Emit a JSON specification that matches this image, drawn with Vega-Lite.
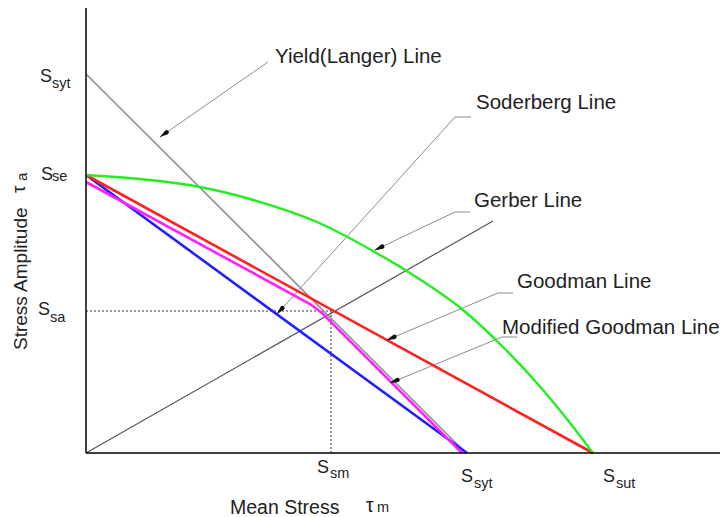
{
  "$schema": "https://vega.github.io/schema/vega-lite/v6.json",
  "width": 727,
  "height": 517,
  "padding": 0,
  "autosize": {"type": "none"},
  "background": "white",
  "config": {"view": {"stroke": null}},
  "datasets": {
    "axes": [
      {"x": 0, "y": 0, "x2": 0, "y2": 445},
      {"x": 0, "y": 0, "x2": 634, "y2": 0}
    ],
    "dotted": [
      {"seg": "h", "i": 0, "x": 0, "y": 142},
      {"seg": "h", "i": 1, "x": 245, "y": 142},
      {"seg": "v", "i": 0, "x": 245, "y": 142},
      {"seg": "v", "i": 1, "x": 245, "y": 0}
    ],
    "leaders": [
      {"name": "Yield", "i": 0, "x": 182, "y": 391},
      {"name": "Yield", "i": 1, "x": 74, "y": 316},
      {"name": "Soderberg", "i": 0, "x": 385, "y": 336},
      {"name": "Soderberg", "i": 1, "x": 369, "y": 336},
      {"name": "Soderberg", "i": 2, "x": 191, "y": 139},
      {"name": "Gerber", "i": 0, "x": 384, "y": 241},
      {"name": "Gerber", "i": 1, "x": 369, "y": 241},
      {"name": "Gerber", "i": 2, "x": 289, "y": 203},
      {"name": "Goodman", "i": 0, "x": 427, "y": 160},
      {"name": "Goodman", "i": 1, "x": 412, "y": 160},
      {"name": "Goodman", "i": 2, "x": 301, "y": 113},
      {"name": "ModGoodman", "i": 0, "x": 431, "y": 116},
      {"name": "ModGoodman", "i": 1, "x": 416, "y": 116},
      {"name": "ModGoodman", "i": 2, "x": 304, "y": 70}
    ],
    "curves": [
      {"curve": "Load", "i": 0, "x": 0, "y": 0},
      {"curve": "Load", "i": 1, "x": 407, "y": 232},
      {"curve": "Yield", "i": 0, "x": 0, "y": 379},
      {"curve": "Yield", "i": 1, "x": 380, "y": 0},
      {"curve": "Soderberg", "i": 0, "x": 0, "y": 278},
      {"curve": "Soderberg", "i": 1, "x": 381, "y": 0},
      {"curve": "Goodman", "i": 0, "x": 0, "y": 278},
      {"curve": "Goodman", "i": 1, "x": 507, "y": 0},
      {"curve": "ModGoodman", "i": 0, "x": 0, "y": 271},
      {"curve": "ModGoodman", "i": 1, "x": 224, "y": 149},
      {"curve": "ModGoodman", "i": 2, "x": 236, "y": 140},
      {"curve": "ModGoodman", "i": 3, "x": 376, "y": 0},
      {"curve": "Gerber", "i": 0, "x": 0, "y": 278},
      {"curve": "Gerber", "i": 1, "x": 64, "y": 273},
      {"curve": "Gerber", "i": 2, "x": 114, "y": 266},
      {"curve": "Gerber", "i": 3, "x": 164, "y": 254},
      {"curve": "Gerber", "i": 4, "x": 231, "y": 231},
      {"curve": "Gerber", "i": 5, "x": 287, "y": 202},
      {"curve": "Gerber", "i": 6, "x": 324, "y": 180},
      {"curve": "Gerber", "i": 7, "x": 377, "y": 143},
      {"curve": "Gerber", "i": 8, "x": 417, "y": 106},
      {"curve": "Gerber", "i": 9, "x": 457, "y": 63},
      {"curve": "Gerber", "i": 10, "x": 484, "y": 30},
      {"curve": "Gerber", "i": 11, "x": 507, "y": 0}
    ],
    "arrows": [
      {"name": "Yield", "end": "tip", "x": 74, "y": 316},
      {"name": "Yield", "end": "back", "x": 80.6, "y": 320.6},
      {"name": "Soderberg", "end": "tip", "x": 191, "y": 139},
      {"name": "Soderberg", "end": "back", "x": 196.4, "y": 144.9},
      {"name": "Gerber", "end": "tip", "x": 289, "y": 203},
      {"name": "Gerber", "end": "back", "x": 296.2, "y": 206.4},
      {"name": "Goodman", "end": "tip", "x": 301, "y": 113},
      {"name": "Goodman", "end": "back", "x": 308.4, "y": 116.1},
      {"name": "ModGoodman", "end": "tip", "x": 304, "y": 70},
      {"name": "ModGoodman", "end": "back", "x": 311.4, "y": 73}
    ],
    "labels": [
      {"t": "Yield(Langer) Line", "x": 189, "y": 390},
      {"t": "Soderberg Line", "x": 390, "y": 344},
      {"t": "Gerber Line", "x": 388, "y": 246},
      {"t": "Goodman Line", "x": 431, "y": 165},
      {"t": "Modified Goodman Line", "x": 416, "y": 119}
    ],
    "bigS": [
      {"t": "S", "x": -46, "y": 371},
      {"t": "S", "x": -45, "y": 273},
      {"t": "S", "x": -48, "y": 138},
      {"t": "S", "x": 231, "y": -20},
      {"t": "S", "x": 375, "y": -29},
      {"t": "S", "x": 517, "y": -29}
    ],
    "xtitle": [
      {"t": "Mean Stress", "x": 144, "y": -61},
      {"t": "τ", "x": 280, "y": -59}
    ],
    "subs": [
      {"t": "syt", "x": -34, "y": 365},
      {"t": "se", "x": -34, "y": 272},
      {"t": "sa", "x": -36, "y": 131},
      {"t": "sm", "x": 244, "y": -25},
      {"t": "syt", "x": 388, "y": -35},
      {"t": "sut", "x": 530, "y": -35},
      {"t": "m", "x": 291, "y": -59}
    ],
    "ytitle": [
      {"t": "Stress Amplitude", "x": -59, "y": 103},
      {"t": "τ", "x": -61, "y": 260}
    ],
    "ysub": [
      {"t": "a", "x": -59, "y": 272}
    ]
  },
  "encoding": {
    "x": {"field": "x", "type": "quantitative", "scale": {"domain": [-86, 641], "nice": false, "zero": false}, "axis": null},
    "y": {"field": "y", "type": "quantitative", "scale": {"domain": [-64, 453], "nice": false, "zero": false}, "axis": null}
  },
  "layer": [
    {
      "data": {"name": "dotted"},
      "mark": {"type": "line", "color": "#333333", "strokeWidth": 1, "strokeDash": [2, 2]},
      "encoding": {"detail": {"field": "seg"}, "order": {"field": "i"}}
    },
    {
      "data": {"name": "leaders"},
      "mark": {"type": "line", "color": "#8c8c8c", "strokeWidth": 1},
      "encoding": {"detail": {"field": "name"}, "order": {"field": "i"}}
    },
    {
      "data": {"name": "curves"},
      "transform": [{"filter": {"field": "curve", "equal": "Load"}}],
      "mark": {"type": "line", "strokeWidth": 1.2, "color": "#555555"},
      "encoding": {"order": {"field": "i"}}
    },
    {
      "data": {"name": "curves"},
      "transform": [{"filter": {"field": "curve", "equal": "Yield"}}],
      "mark": {"type": "line", "strokeWidth": 1.6, "color": "#8f8f8f"},
      "encoding": {"order": {"field": "i"}}
    },
    {
      "data": {"name": "curves"},
      "transform": [{"filter": {"field": "curve", "equal": "Soderberg"}}],
      "mark": {"type": "line", "strokeWidth": 2.6, "color": "#2020ff"},
      "encoding": {"order": {"field": "i"}}
    },
    {
      "data": {"name": "curves"},
      "transform": [{"filter": {"field": "curve", "equal": "Goodman"}}],
      "mark": {"type": "line", "strokeWidth": 2.6, "color": "#ff2020"},
      "encoding": {"order": {"field": "i"}}
    },
    {
      "data": {"name": "curves"},
      "transform": [{"filter": {"field": "curve", "equal": "ModGoodman"}}],
      "mark": {"type": "line", "strokeWidth": 2.6, "color": "#ff20ff"},
      "encoding": {"order": {"field": "i"}}
    },
    {
      "data": {"name": "curves"},
      "transform": [{"filter": {"field": "curve", "equal": "Gerber"}}],
      "mark": {"type": "line", "strokeWidth": 2.4, "color": "#22ee22", "interpolate": "monotone"},
      "encoding": {"order": {"field": "i"}}
    },
    {
      "data": {"name": "axes"},
      "mark": {"type": "rule", "color": "#000000", "strokeWidth": 1.5},
      "encoding": {"x2": {"field": "x2"}, "y2": {"field": "y2"}}
    },
    {
      "data": {"name": "arrows"},
      "mark": {"type": "trail", "color": "#111111"},
      "encoding": {
        "detail": {"field": "name"},
        "order": {"field": "end", "sort": "descending"},
        "size": {"field": "end", "type": "nominal", "legend": null, "scale": {"domain": ["tip", "back"], "range": [0.3, 4.5]}}
      }
    },
    {
      "data": {"name": "labels"},
      "mark": {"type": "text", "align": "left", "baseline": "alphabetic", "font": "Liberation Sans", "fontSize": 20.5, "color": "#222222"},
      "encoding": {"text": {"field": "t"}}
    },
    {
      "data": {"name": "bigS"},
      "mark": {"type": "text", "align": "left", "baseline": "alphabetic", "font": "Liberation Sans", "fontSize": 18, "color": "#222222"},
      "encoding": {"text": {"field": "t"}}
    },
    {
      "data": {"name": "xtitle"},
      "mark": {"type": "text", "align": "left", "baseline": "alphabetic", "font": "Liberation Sans", "fontSize": 19.5, "color": "#222222"},
      "encoding": {"text": {"field": "t"}}
    },
    {
      "data": {"name": "subs"},
      "mark": {"type": "text", "align": "left", "baseline": "alphabetic", "font": "Liberation Sans", "fontSize": 14.5, "color": "#222222"},
      "encoding": {"text": {"field": "t"}}
    },
    {
      "data": {"name": "ytitle"},
      "mark": {"type": "text", "align": "left", "baseline": "alphabetic", "font": "Liberation Sans", "fontSize": 19, "angle": 270, "color": "#222222"},
      "encoding": {"text": {"field": "t"}}
    },
    {
      "data": {"name": "ysub"},
      "mark": {"type": "text", "align": "left", "baseline": "alphabetic", "font": "Liberation Sans", "fontSize": 15, "angle": 270, "color": "#222222"},
      "encoding": {"text": {"field": "t"}}
    }
  ]
}
